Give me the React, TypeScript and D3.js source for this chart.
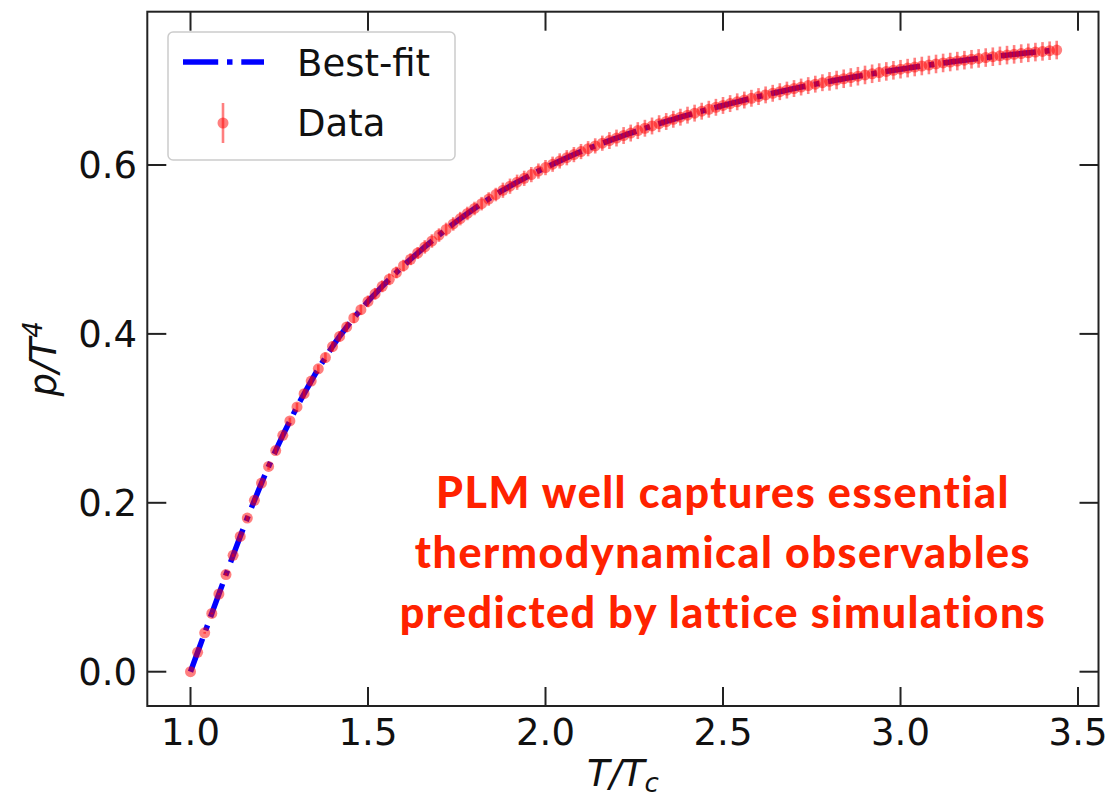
import React from "react";
import * as d3 from "d3";

const tValues = [
  1.00, 1.02, 1.04, 1.06, 1.08, 1.10, 1.12, 1.14, 1.16, 1.18,
  1.20, 1.22, 1.24, 1.26, 1.28, 1.30, 1.32, 1.34, 1.36, 1.38,
  1.40, 1.42, 1.44, 1.46, 1.48, 1.50, 1.52, 1.54, 1.56, 1.58,
  1.60, 1.62, 1.64, 1.66, 1.68, 1.70, 1.72, 1.74, 1.76, 1.78,
  1.80, 1.82, 1.84, 1.86, 1.88, 1.90, 1.92, 1.94, 1.96, 1.98,
  2.00, 2.02, 2.04, 2.06, 2.08, 2.10, 2.12, 2.14, 2.16, 2.18,
  2.20, 2.22, 2.24, 2.26, 2.28, 2.30, 2.32, 2.34, 2.36, 2.38,
  2.40, 2.42, 2.44, 2.46, 2.48, 2.50, 2.52, 2.54, 2.56, 2.58,
  2.60, 2.62, 2.64, 2.66, 2.68, 2.70, 2.72, 2.74, 2.76, 2.78,
  2.80, 2.82, 2.84, 2.86, 2.88, 2.90, 2.92, 2.94, 2.96, 2.98,
  3.00, 3.02, 3.04, 3.06, 3.08, 3.10, 3.12, 3.14, 3.16, 3.18,
  3.20, 3.22, 3.24, 3.26, 3.28, 3.30, 3.32, 3.34, 3.36, 3.38,
  3.40, 3.42, 3.44,
];

const pValues = [
  0.0, 0.023, 0.046, 0.069, 0.092, 0.115, 0.1378, 0.1602, 0.1819, 0.2029,
  0.2233, 0.2431, 0.2619, 0.2799, 0.2969, 0.3135, 0.3292, 0.3442, 0.3586, 0.372,
  0.385, 0.397, 0.4082, 0.4189, 0.4287, 0.4385, 0.4475, 0.4563, 0.4647, 0.4727,
  0.4808, 0.4884, 0.4958, 0.503, 0.51, 0.517, 0.5237, 0.5302, 0.5365, 0.5426,
  0.5485, 0.5542, 0.5597, 0.565, 0.5701, 0.5749, 0.5796, 0.5842, 0.5886, 0.5928,
  0.5969, 0.6009, 0.6048, 0.6086, 0.6123, 0.6159, 0.6193, 0.6226, 0.6258, 0.6289,
  0.6319, 0.6349, 0.6378, 0.6407, 0.6435, 0.6462, 0.6489, 0.6515, 0.6541, 0.6566,
  0.659, 0.6614, 0.6637, 0.666, 0.6683, 0.6705, 0.6727, 0.6748, 0.6769, 0.679,
  0.681, 0.683, 0.6849, 0.6868, 0.6887, 0.6905, 0.6923, 0.694, 0.6957, 0.6974,
  0.699, 0.7006, 0.7021, 0.7036, 0.7051, 0.7066, 0.708, 0.7094, 0.7108, 0.7121,
  0.7134, 0.7147, 0.716, 0.7172, 0.7184, 0.7196, 0.7208, 0.7219, 0.723, 0.7241,
  0.7252, 0.7262, 0.7272, 0.7282, 0.7292, 0.7301, 0.731, 0.7319, 0.7328, 0.7337,
  0.7345, 0.7353, 0.7361,
];

const pErrors = [
  0.0, 0.0, 0.001, 0.001, 0.001, 0.002, 0.002, 0.002, 0.003, 0.003,
  0.003, 0.004, 0.004, 0.004, 0.004, 0.005, 0.005, 0.005, 0.005, 0.006,
  0.006, 0.006, 0.006, 0.006, 0.006, 0.007, 0.007, 0.007, 0.007, 0.007,
  0.007, 0.007, 0.007, 0.008, 0.008, 0.008, 0.008, 0.008, 0.008, 0.008,
  0.008, 0.008, 0.008, 0.008, 0.009, 0.009, 0.009, 0.009, 0.009, 0.009,
  0.009, 0.009, 0.009, 0.009, 0.009, 0.009, 0.009, 0.009, 0.009, 0.01,
  0.01, 0.01, 0.01, 0.01, 0.01, 0.01, 0.01, 0.01, 0.01, 0.01,
  0.01, 0.01, 0.01, 0.01, 0.01, 0.01, 0.01, 0.01, 0.01, 0.01,
  0.01, 0.01, 0.01, 0.01, 0.01, 0.01, 0.01, 0.01, 0.01, 0.01,
  0.011, 0.011, 0.011, 0.011, 0.011, 0.011, 0.011, 0.011, 0.011, 0.011,
  0.011, 0.011, 0.011, 0.011, 0.011, 0.011, 0.011, 0.011, 0.011, 0.011,
  0.011, 0.011, 0.011, 0.011, 0.011, 0.011, 0.011, 0.011, 0.011, 0.011,
  0.011, 0.011, 0.011,
];

const xTicks = [1.0, 1.5, 2.0, 2.5, 3.0, 3.5];
const yTicks = [0.0, 0.2, 0.4, 0.6];
const legendLabels = ["Best-fit", "Data"];
const annotationLines = [
  "PLM well captures essential",
  "thermodynamical observables",
  "predicted by lattice simulations",
];

const W = 1110;
const H = 799;
const L = 147.3;
const R = 1098.5;
const T = 11.7;
const B = 706;

export default function App() {
  const x = d3.scaleLinear().domain([0.8783, 3.5577]).range([L, R]);
  const y = d3.scaleLinear().domain([-0.0406, 0.7815]).range([B, T]);
  const pts = tValues.map((t, i) => ({ t, p: pValues[i], e: pErrors[i] }));
  const line = d3
    .line<{ t: number; p: number }>()
    .x((d) => x(d.t))
    .y((d) => y(d.p))
    .curve(d3.curveMonotoneX);
  const fitPath = line(pts.slice(0, pts.length - 1)) || "";
  const lw = 5.5;
  const dash = `${6.4 * lw},${1.6 * lw},${1 * lw},${1.6 * lw}`;
  const red = "#ff0000";
  const alpha = 0.5;
  const tickFont = "'DejaVu Sans', sans-serif";
  const fs = 37;
  const tl = 19;

  return (
    <svg
      width={W}
      height={H}
      style={{ position: "absolute", left: 0, top: 0, background: "#fff" }}
    >
      <rect x={0} y={0} width={W} height={H} fill="#fff" />
      {/* fit line */}
      <path
        d={fitPath}
        fill="none"
        stroke="#0000ff"
        strokeWidth={lw}
        strokeDasharray={dash}
      />
      {/* data */}
      <g>
        {pts.map((d, i) => (
          <g key={i}>
            <line
              x1={x(d.t)}
              x2={x(d.t)}
              y1={y(d.p - d.e)}
              y2={y(d.p + d.e)}
              stroke={red}
              strokeOpacity={alpha}
              strokeWidth={2.6}
            />
            <circle cx={x(d.t)} cy={y(d.p)} r={5.5} fill={red} fillOpacity={alpha} />
          </g>
        ))}
      </g>
      {/* annotation */}
      <g
        fill="#ff2200"
        fontFamily="Lato, 'Open Sans', sans-serif"
        fontWeight={900}
        fontSize={43}
        letterSpacing={1.5}
        textAnchor="middle"
      >
        {annotationLines.map((s, i) => (
          <text key={i} x={723} y={508 + i * 60}>
            {s}
          </text>
        ))}
      </g>
      {/* frame */}
      <rect
        x={L}
        y={T}
        width={R - L}
        height={B - T}
        fill="none"
        stroke="#222"
        strokeWidth={2}
      />
      {/* ticks */}
      <g stroke="#222" strokeWidth={2}>
        {xTicks.map((v) => (
          <g key={"x" + v}>
            <line x1={x(v)} x2={x(v)} y1={B} y2={B - tl} />
            <line x1={x(v)} x2={x(v)} y1={T} y2={T + tl} />
          </g>
        ))}
        {yTicks.map((v) => (
          <g key={"y" + v}>
            <line x1={L} x2={L + tl} y1={y(v)} y2={y(v)} />
            <line x1={R} x2={R - tl} y1={y(v)} y2={y(v)} />
          </g>
        ))}
      </g>
      <g fontFamily={tickFont} fontSize={fs} fill="#111">
        {xTicks.map((v) => (
          <text key={"xl" + v} x={x(v)} y={745} textAnchor="middle">
            {v.toFixed(1)}
          </text>
        ))}
        {yTicks.map((v) => (
          <text key={"yl" + v} x={137} y={y(v) + 13.5} textAnchor="end">
            {v.toFixed(1)}
          </text>
        ))}
      </g>
      {/* axis labels */}
      <text
        x={(L + R) / 2}
        y={786}
        textAnchor="middle"
        fontFamily={tickFont}
        fontSize={fs}
        fontStyle="italic"
        fill="#111"
      >
        T/T
        <tspan fontSize={26} dy={6}>
          c
        </tspan>
      </text>
      <text
        transform={`translate(56,${(T + B) / 2}) rotate(-90)`}
        textAnchor="middle"
        fontFamily={tickFont}
        fontSize={fs}
        fontStyle="italic"
        fill="#111"
      >
        p/T
        <tspan fontSize={26} dy={-14}>
          4
        </tspan>
      </text>
      {/* legend */}
      <g>
        <rect
          x={168}
          y={32}
          width={287}
          height={128}
          rx={5}
          fill="#fff"
          fillOpacity={0.8}
          stroke="#cccccc"
          strokeWidth={1.5}
        />
        <line
          x1={183}
          x2={264}
          y1={62}
          y2={62}
          stroke="#0000ff"
          strokeWidth={lw}
          strokeDasharray={dash}
        />
        <line
          x1={223}
          x2={223}
          y1={103}
          y2={143}
          stroke={red}
          strokeOpacity={alpha}
          strokeWidth={2.6}
        />
        <circle cx={223} cy={123} r={5.5} fill={red} fillOpacity={alpha} />
        <g fontFamily={tickFont} fontSize={fs} fill="#111">
          <text x={297} y={76}>
            {legendLabels[0]}
          </text>
          <text x={297} y={136}>
            {legendLabels[1]}
          </text>
        </g>
      </g>
    </svg>
  );
}
